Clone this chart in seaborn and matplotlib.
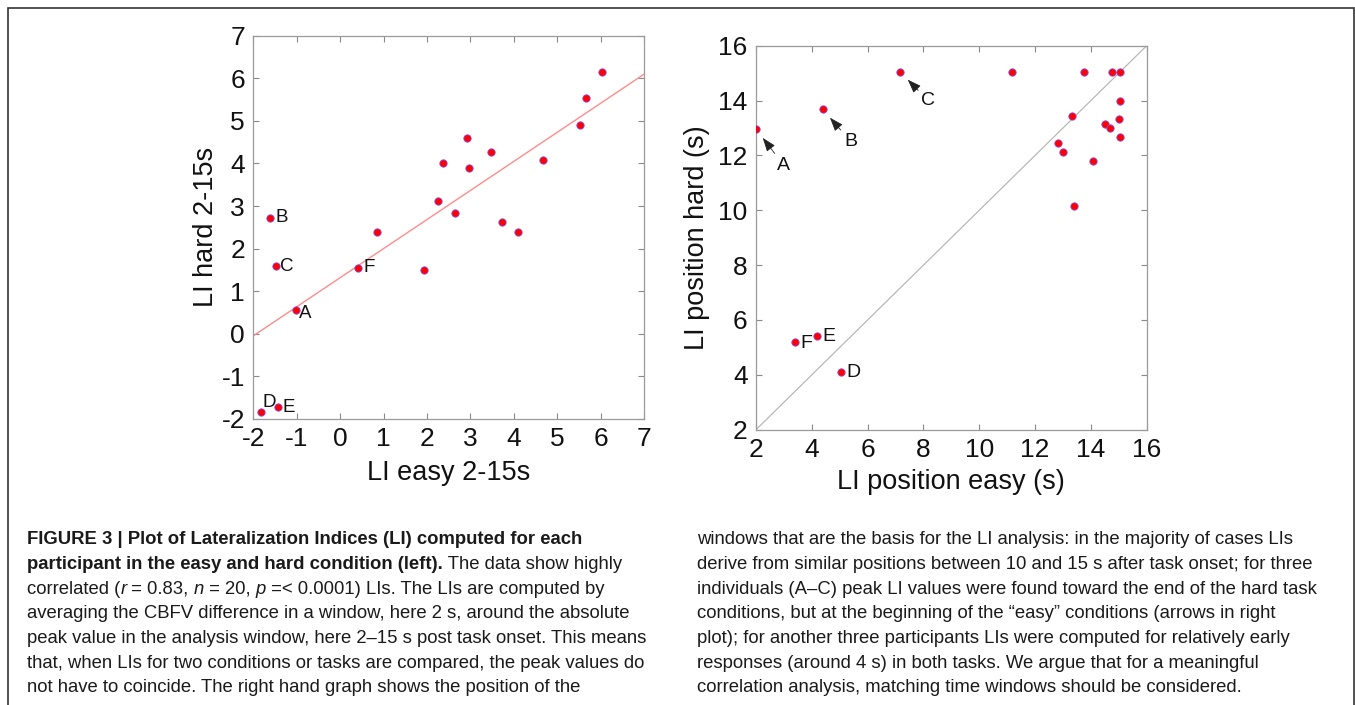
import numpy as np
import pandas as pd
import matplotlib
matplotlib.use("Agg")
import matplotlib.pyplot as plt
import seaborn as sns
from matplotlib.patches import Rectangle

# ---------------- data ----------------
# Left panel: lateralization indices, easy vs hard (2-15 s window)
li_easy = [6.03, 5.67, 5.52, 4.68, 2.92, 3.47, 2.37, 2.98, 2.26, 2.65,
           3.74, 4.09, 0.85, 1.94, 0.42, -1.62, -1.48, -1.02, -1.82, -1.42]
li_hard = [6.14, 5.53, 4.91, 4.08, 4.60, 4.28, 4.00, 3.89, 3.13, 2.83,
           2.63, 2.39, 2.38, 1.51, 1.55, 2.72, 1.59, 0.57, -1.83, -1.72]
li_tags = [""] * 14 + ["F", "B", "C", "A", "D", "E"]

# Right panel: position (s) of LI peak, easy vs hard
pos_easy = [2.00, 4.39, 7.16, 11.19, 13.77, 14.76, 15.04, 15.04, 15.01, 15.04,
            13.31, 14.51, 14.67, 12.81, 13.01, 14.07, 13.41, 3.40, 4.17, 5.03]
pos_hard = [12.96, 13.68, 15.05, 15.05, 15.05, 15.05, 15.05, 13.97, 13.34, 12.66,
            13.45, 13.13, 12.99, 12.45, 12.14, 11.80, 10.17, 5.20, 5.40, 4.09]
pos_tags = ["A", "B", "C"] + [""] * 14 + ["F", "E", "D"]

left_ticks = list(range(-2, 8))
right_ticks = list(range(2, 17, 2))
left_xlabel, left_ylabel = "LI easy 2-15s", "LI hard 2-15s"
right_xlabel, right_ylabel = "LI position easy (s)", "LI position hard (s)"

caption_left = [
    [("FIGURE 3 | Plot of Lateralization Indices (LI) computed for each", "b")],
    [("participant in the easy and hard condition (left).", "b"), (" The data show highly", "r")],
    [("correlated (", "r"), ("r", "i"), (" = 0.83, ", "r"), ("n", "i"), (" = 20, ", "r"),
     ("p", "i"), (" =< 0.0001) LIs. The LIs are computed by", "r")],
    [("averaging the CBFV difference in a window, here 2 s, around the absolute", "r")],
    [("peak value in the analysis window, here 2\u201315 s post task onset. This means", "r")],
    [("that, when LIs for two conditions or tasks are compared, the peak values do", "r")],
    [("not have to coincide. The right hand graph shows the position of the", "r")],
]
caption_right = [
    [("windows that are the basis for the LI analysis: in the majority of cases LIs", "r")],
    [("derive from similar positions between 10 and 15 s after task onset; for three", "r")],
    [("individuals (A\u2013C) peak LI values were found toward the end of the hard task", "r")],
    [("conditions, but at the beginning of the \u201ceasy\u201d conditions (arrows in right", "r")],
    [("plot); for another three participants LIs were computed for relatively early", "r")],
    [("responses (around 4 s) in both tasks. We argue that for a meaningful", "r")],
    [("correlation analysis, matching time windows should be considered.", "r")],
]

# ---------------- style ----------------
sns.set_theme(style="white")
plt.rcParams["font.family"] = ["Liberation Sans", "DejaVu Sans"]
plt.rcParams["axes.unicode_minus"] = False

W, H = 1355, 705
fig = plt.figure(figsize=(W / 100, H / 100), dpi=100)
fig.patch.set_facecolor("white")

def px_axes(x0, y0, x1, y1):
    return fig.add_axes([x0 / W, 1 - y1 / H, (x1 - x0) / W, (y1 - y0) / H])

ax1 = px_axes(253.3, 35.7, 644.0, 419.0)
ax2 = px_axes(756.0, 45.7, 1146.7, 429.7)

marker_kw = dict(color="#ff0000", edgecolor="#8a4ae0", linewidth=0.6, s=28, zorder=3)

def style_axes(ax, ticks, xlabel, ylabel, xpad, ypad):
    ax.set_xlim(ticks[0], ticks[-1])
    ax.set_ylim(ticks[0], ticks[-1])
    ax.set_xticks(ticks)
    ax.set_yticks(ticks)
    ax.tick_params(direction="in", length=4, width=0.8, color="#8a8a8a",
                   top=True, right=True, bottom=True, left=True,
                   labelsize=19, pad=6, labelcolor="#111111")
    for sp in ax.spines.values():
        sp.set_color("#9a9a9a")
        sp.set_linewidth(0.9)
        sp.set_visible(True)
    ax.set_xlabel(xlabel, fontsize=19.5, labelpad=xpad, color="#111111")
    ax.set_ylabel(ylabel, fontsize=19.5, labelpad=ypad, color="#111111")
    ax.grid(False)
    ax.set_facecolor("white")

# ---- left panel ----
style_axes(ax1, left_ticks, left_xlabel, left_ylabel, 6, 2)
sns.regplot(x=np.array(li_easy), y=np.array(li_hard), ax=ax1, scatter=False, ci=None,
            truncate=False, line_kws=dict(color="#ff8c8c", linewidth=1.0, zorder=2))
sns.scatterplot(x=li_easy, y=li_hard, ax=ax1, **marker_kw)
style_axes(ax1, left_ticks, left_xlabel, left_ylabel, 6, 2)

left_offsets = {"B": (4, 0), "C": (3, 0), "F": (4, 0), "A": (2, -3), "D": (1, 7), "E": (3, 0)}
for xv, yv, tag in zip(li_easy, li_hard, li_tags):
    if tag:
        ax1.annotate(tag, (xv, yv), xytext=left_offsets[tag], textcoords="offset points",
                     ha="left", va="center", fontsize=13.5, color="#111111")

# ---- right panel ----
sns.lineplot(x=right_ticks, y=right_ticks, ax=ax2, color="#b8b8b8", linewidth=0.9, zorder=2)
sns.scatterplot(x=pos_easy, y=pos_hard, ax=ax2, **marker_kw)
style_axes(ax2, right_ticks, right_xlabel, right_ylabel, 5, 6)

arrow_offsets = {"A": (20, -26), "B": (20, -23), "C": (20.5, -21)}
side_offsets = {"F": (3.5, -1), "E": (4.3, 0), "D": (4, 0)}
for xv, yv, tag in zip(pos_easy, pos_hard, pos_tags):
    if tag in arrow_offsets:
        ax2.annotate(tag, (xv, yv), xytext=arrow_offsets[tag], textcoords="offset points",
                     ha="center", va="center", fontsize=14, color="#111111",
                     arrowprops=dict(arrowstyle="-|>,head_length=0.6,head_width=0.22",
                                     color="#222222", lw=0.6, shrinkA=0, shrinkB=8))
    elif tag:
        ax2.annotate(tag, (xv, yv), xytext=side_offsets[tag], textcoords="offset points",
                     ha="left", va="center", fontsize=14, color="#111111")

# ---- border ----
fig.add_artist(Rectangle((8 / W, -0.05), (1354 - 8) / W, 1 - 8 / H + 0.05,
                         transform=fig.transFigure, fill=False, edgecolor="#333333",
                         linewidth=1.2, clip_on=False))

# ---- caption ----
renderer = fig.canvas.get_renderer()
cap_size = 13.3
style_map = {"b": dict(fontweight="bold"), "r": dict(), "i": dict(fontstyle="italic")}

def run_width(s, kw):
    t1 = fig.text(0, 0, "|" + s + "|", fontsize=cap_size, **kw)
    t2 = fig.text(0, 0, "||", fontsize=cap_size, **kw)
    w = t1.get_window_extent(renderer).width - t2.get_window_extent(renderer).width
    t1.remove()
    t2.remove()
    return w

def draw_caption(lines, x0, y0, step):
    for i, runs in enumerate(lines):
        x = x0
        y = y0 + i * step
        for s, st in runs:
            kw = style_map[st]
            fig.text(x / W, 1 - y / H, s, ha="left", va="baseline", fontsize=cap_size,
                     color="#1a1a1a", **kw)
            x += run_width(s, kw)

draw_caption(caption_left, 27, 544.5, 24.6)
draw_caption(caption_right, 697, 544.5, 24.6)

fig.savefig("out.png", dpi=100, facecolor="white")
